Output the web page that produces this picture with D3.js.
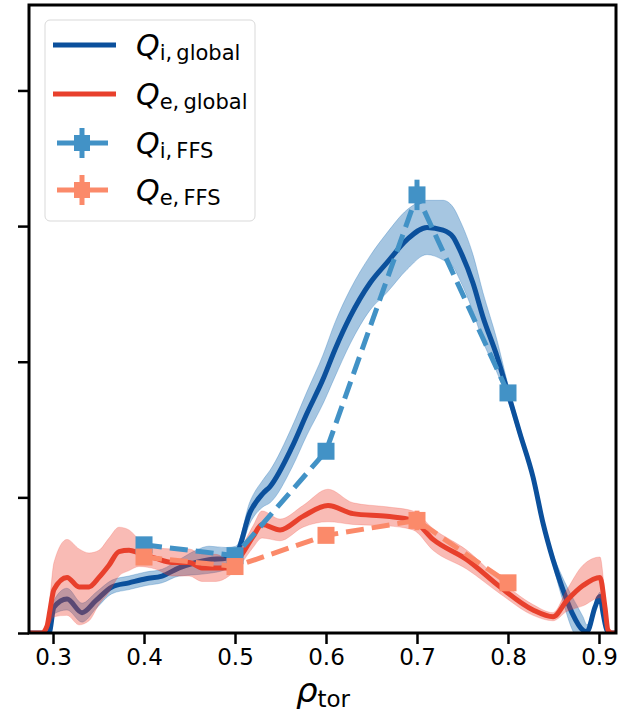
<!DOCTYPE html>
<html>
<head>
<meta charset="utf-8">
<script src="https://cdn.jsdelivr.net/npm/d3@7"></script>
<style>
  body { margin: 0; background: #fff; }
  svg { display: block; }
</style>
</head>
<body>
<div id="chart"></div>
<script>
// global heat flux profiles (arbitrary units, one y tick = 1)
const qiRho = [0.2736,0.291,0.2956,0.301,0.3154,0.3319,0.3473,0.3648,0.3835,0.4022,0.4198,0.4385,0.4571,0.4714,0.4901,0.5011,0.5165,0.5308,0.5385,0.5626,0.5791,0.5967,0.6099,0.6264,0.6484,0.6670,0.6890,0.7110,0.7286,0.7396,0.7473,0.7615,0.7725,0.7879,0.8000,0.8132,0.8275,0.8385,0.8495,0.8593,0.8703,0.8824,0.8868,0.8956,0.9011,0.9044,0.9088,0.914,0.9187];
const qiVal = [0,0,0,0.19,0.25,0.15,0.24,0.34,0.37,0.40,0.42,0.48,0.52,0.54,0.55,0.58,0.89,1.03,1.08,1.37,1.62,1.87,2.09,2.33,2.58,2.73,2.90,2.99,2.97,2.92,2.82,2.58,2.33,2.04,1.77,1.47,1.15,0.81,0.54,0.34,0.15,0.02,0.01,0.19,0.27,0.15,0.02,0,0];
const qiErr = [0,0,0,0.05,0.08,0.07,0.06,0.05,0.05,0.05,0.05,0.06,0.09,0.1,0.08,0.06,0.08,0.1,0.12,0.15,0.16,0.18,0.2,0.2,0.2,0.22,0.22,0.2,0.22,0.22,0.22,0.21,0.18,0.12,0.06,0.04,0.03,0.03,0.04,0.08,0.12,0.1,0.05,0.03,0.03,0.03,0.02,0,0];

const qeRho = [0.2736,0.2879,0.2934,0.2967,0.301,0.3154,0.3286,0.3396,0.3505,0.3615,0.3725,0.3835,0.3945,0.4132,0.4308,0.4495,0.4637,0.4791,0.4934,0.5055,0.5198,0.5297,0.5495,0.5747,0.6022,0.6297,0.6670,0.6956,0.7176,0.7549,0.7912,0.8275,0.8495,0.8648,0.8824,0.9011,0.9066,0.9099,0.914,0.9187];
const qeVal = [0,0,0.05,0.17,0.32,0.41,0.34,0.34,0.41,0.50,0.60,0.61,0.59,0.55,0.52,0.52,0.48,0.48,0.48,0.56,0.71,0.80,0.76,0.86,0.94,0.88,0.86,0.83,0.69,0.54,0.34,0.17,0.12,0.24,0.35,0.41,0.19,0.02,0,0];
const qeErr = [0,0,0.03,0.1,0.2,0.28,0.28,0.25,0.2,0.2,0.18,0.15,0.1,0.08,0.1,0.1,0.1,0.1,0.06,0.06,0.08,0.1,0.08,0.08,0.12,0.08,0.07,0.07,0.08,0.07,0.05,0.04,0.03,0.08,0.15,0.15,0.08,0.02,0,0];

// flux-tube (FFS) runs
const ffsRho = [0.4, 0.5, 0.6, 0.7, 0.8];
const qiFfs = [0.65, 0.57, 1.34, 3.23, 1.77];
const qiFfsErr = [0.03, 0.03, 0.03, 0.09, 0.03];
const qeFfs = [0.56, 0.49, 0.72, 0.83, 0.37];
const qeFfsErr = [0.03, 0.03, 0.03, 0.05, 0.03];

const xTicks = [0.3, 0.4, 0.5, 0.6, 0.7, 0.8, 0.9];
const yTicks = [0, 1, 2, 3, 4];

const W = 620, H = 715;
const plot = { left: 29, right: 616, top: 5, bottom: 633 };

const cQi = "#0b509c", cQe = "#e8402c", cQiF = "#4292c6", cQeF = "#fb8a6a";

const svg = d3.select("#chart").append("svg")
    .attr("width", W)
    .attr("height", H);

const x = d3.scaleLinear().domain([0.2736, 0.9187]).range([plot.left, plot.right]);
const y = d3.scaleLinear().domain([0, 4.63]).range([plot.bottom, plot.top]);

svg.append("clipPath").attr("id", "clip")
  .append("rect")
    .attr("x", plot.left).attr("y", plot.top)
    .attr("width", plot.right - plot.left)
    .attr("height", plot.bottom - plot.top);

const g = svg.append("g").attr("clip-path", "url(#clip)");

function zipSeries(rho, val, err) {
    return rho.map((r, i) => ({ r: r, v: val[i], e: err[i] }));
}
const qi = zipSeries(qiRho, qiVal, qiErr);
const qe = zipSeries(qeRho, qeVal, qeErr);
const qiF = zipSeries(ffsRho, qiFfs, qiFfsErr);
const qeF = zipSeries(ffsRho, qeFfs, qeFfsErr);

const band = d3.area()
    .x(d => x(d.r))
    .y0(d => y(d.v - d.e))
    .y1(d => y(d.v + d.e))
    .curve(d3.curveMonotoneX);
const line = d3.line()
    .x(d => x(d.r))
    .y(d => y(d.v))
    .curve(d3.curveMonotoneX);
const straight = d3.line().x(d => x(d.r)).y(d => y(d.v));

// bands + global lines
g.append("path").datum(qi).attr("d", band)
    .attr("fill", "#2171b5").attr("fill-opacity", 0.4)
    .attr("stroke", "#2171b5").attr("stroke-opacity", 0.3);
g.append("path").datum(qi).attr("d", line)
    .attr("fill", "none").attr("stroke", cQi).attr("stroke-width", 5)
    .attr("stroke-linejoin", "round");
g.append("path").datum(qe).attr("d", band)
    .attr("fill", "#ef3b2c").attr("fill-opacity", 0.35)
    .attr("stroke", "#ef3b2c").attr("stroke-opacity", 0.2);
g.append("path").datum(qe).attr("d", line)
    .attr("fill", "none").attr("stroke", cQe).attr("stroke-width", 5)
    .attr("stroke-linejoin", "round");

// FFS points with error bars and dashed connectors
function drawFfs(data, color) {
    g.append("path").datum(data).attr("d", straight)
        .attr("fill", "none").attr("stroke", color).attr("stroke-width", 5)
        .attr("stroke-dasharray", "18,8");
    g.selectAll(null).data(data).enter().append("line")
        .attr("x1", d => x(d.r)).attr("x2", d => x(d.r))
        .attr("y1", d => y(d.v - d.e) + 3).attr("y2", d => y(d.v + d.e) - 3)
        .attr("stroke", color).attr("stroke-width", 5);
    g.selectAll(null).data(data).enter().append("rect")
        .attr("x", d => x(d.r) - 8.5).attr("y", d => y(d.v) - 8.5)
        .attr("width", 17).attr("height", 17)
        .attr("fill", color);
}
drawFfs(qiF, cQiF);
drawFfs(qeF, cQeF);

// axes
const xAxis = svg.append("g")
    .attr("transform", `translate(0,${plot.bottom})`)
    .call(d3.axisBottom(x).tickValues(xTicks).tickFormat(d3.format(".1f")).tickSize(11).tickPadding(5));
xAxis.select(".domain").remove();
xAxis.selectAll(".tick line").attr("stroke", "#000").attr("stroke-width", 2.5);
xAxis.selectAll(".tick text")
    .attr("font-family", "DejaVu Sans").attr("font-size", 23).attr("fill", "#000");

const yAxis = svg.append("g")
    .attr("transform", `translate(${plot.left},0)`)
    .call(d3.axisLeft(y).tickValues(yTicks).tickFormat("").tickSize(11));
yAxis.select(".domain").remove();
yAxis.selectAll(".tick line").attr("stroke", "#000").attr("stroke-width", 2.5);

// frame
svg.append("rect")
    .attr("x", plot.left).attr("y", plot.top)
    .attr("width", plot.right - plot.left).attr("height", plot.bottom - plot.top)
    .attr("fill", "none").attr("stroke", "#000").attr("stroke-width", 3);

// x label
const xl = svg.append("text")
    .attr("x", 323).attr("y", 702)
    .attr("text-anchor", "middle")
    .attr("font-family", "DejaVu Sans");
xl.append("tspan").attr("font-style", "italic").attr("font-size", 34).text("ρ");
xl.append("tspan").attr("font-size", 23).attr("dy", 5).text("tor");

// legend
const legend = svg.append("g");
legend.append("rect")
    .attr("x", 45).attr("y", 20).attr("width", 210).attr("height", 201).attr("rx", 5)
    .attr("fill", "#fff").attr("fill-opacity", 0.8)
    .attr("stroke", "#d9d9d9").attr("stroke-width", 1);

const legNames = [["i", "global"], ["e", "global"], ["i", "FFS"], ["e", "FFS"]];
const legColors = [cQi, cQe, cQiF, cQeF];
const legMarker = [false, false, true, true];
const legLineY = [45, 94, 143, 190];

legNames.forEach((nm, i) => {
    const ly = legLineY[i];
    const row = legend.append("g");
    if (legMarker[i]) {
        row.append("line").attr("x1", 57).attr("x2", 108).attr("y1", ly).attr("y2", ly)
            .attr("stroke", legColors[i]).attr("stroke-width", 5);
        row.append("line").attr("x1", 82).attr("x2", 82).attr("y1", ly - 15).attr("y2", ly + 15)
            .attr("stroke", legColors[i]).attr("stroke-width", 5);
        row.append("rect").attr("x", 82 - 8).attr("y", ly - 8).attr("width", 16).attr("height", 16)
            .attr("fill", legColors[i]);
    } else {
        row.append("line").attr("x1", 53).attr("x2", 116).attr("y1", ly).attr("y2", ly)
            .attr("stroke", legColors[i]).attr("stroke-width", 5);
    }
    const t = row.append("text")
        .attr("x", 136).attr("y", ly + 11)
        .attr("font-family", "DejaVu Sans").attr("fill", "#000");
    t.append("tspan").attr("font-style", "italic").attr("font-size", 30).text("Q");
    t.append("tspan").attr("font-size", 21).attr("dy", 4).text(nm[0] + ",\u2009" + nm[1]);
});
</script>
</body>
</html>
